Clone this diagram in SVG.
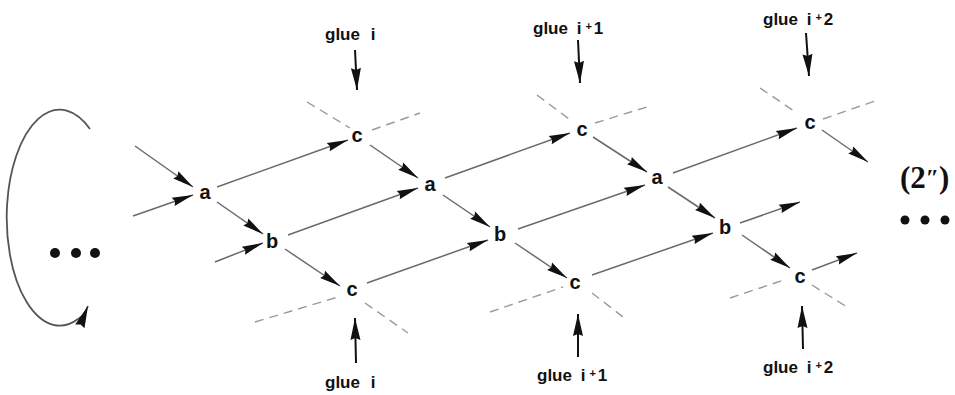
<svg xmlns="http://www.w3.org/2000/svg" width="955" height="395" viewBox="0 0 955 395">
<defs>
<marker id="ah" markerUnits="userSpaceOnUse" markerWidth="24" markerHeight="12" viewBox="-22 -6 24 12" refX="0" refY="0" orient="auto">
<path d="M0,0 L-21,-4.4 L-19,0 L-21,4.4 Z" fill="#111"/>
</marker>
<marker id="gh" markerUnits="userSpaceOnUse" markerWidth="26" markerHeight="14" viewBox="-24 -7 26 14" refX="0" refY="0" orient="auto">
<path d="M0,0 L-22,-5 L-20,0 L-22,5 Z" fill="#111"/>
</marker>
<style>
.e{stroke:#6a6a6a;stroke-width:1.5;fill:none;marker-end:url(#ah)}
.d{stroke:#9a9a9a;stroke-width:1.4;fill:none;stroke-dasharray:9 6}
.g{stroke:#111;stroke-width:2;fill:none;marker-end:url(#gh)}
.n{font-family:"Liberation Sans",Arial,sans-serif;font-weight:bold;font-size:20px;fill:#111;text-anchor:middle}
.t{font-family:"Liberation Sans",Arial,sans-serif;font-weight:bold;font-size:17px;fill:#111}
.p{font-size:11px}
</style>
</defs>
<rect width="955" height="395" fill="#fff"/>

<g id="connectors">
<line class="e" x1="135" y1="146" x2="193" y2="187"/>
<line class="e" x1="133" y1="216" x2="193" y2="195"/>
<line class="e" x1="217" y1="187" x2="348" y2="140"/>
<line class="e" x1="217" y1="202" x2="263" y2="234"/>
<line class="e" x1="215" y1="262" x2="263" y2="243"/>
<line class="e" x1="288" y1="235" x2="418" y2="188"/>
<line class="e" x1="285" y1="249" x2="340" y2="286"/>
<line class="e" x1="367" y1="283" x2="488" y2="240"/>
<line class="e" x1="370" y1="145" x2="418" y2="178"/>
<line class="e" x1="445" y1="178" x2="570" y2="133"/>
<line class="e" x1="443" y1="195" x2="490" y2="227"/>
<line class="e" x1="518" y1="229" x2="645" y2="185"/>
<line class="e" x1="515" y1="243" x2="567" y2="278"/>
<line class="e" x1="592" y1="275" x2="713" y2="233"/>
<line class="e" x1="593" y1="137" x2="647" y2="172"/>
<line class="e" x1="673" y1="173" x2="797" y2="128"/>
<line class="e" x1="668" y1="187" x2="715" y2="218"/>
<line class="e" x1="740" y1="223" x2="800" y2="202"/>
<line class="e" x1="742" y1="235" x2="790" y2="268"/>
<line class="e" x1="812" y1="270" x2="857" y2="253"/>
<line class="e" x1="822" y1="130" x2="868" y2="162"/>

<line class="d" x1="307" y1="102" x2="350" y2="128"/>
<line class="d" x1="372" y1="130" x2="420" y2="113"/>
<line class="d" x1="255" y1="322" x2="338" y2="297"/>
<line class="d" x1="365" y1="303" x2="408" y2="333"/>
<line class="d" x1="537" y1="95" x2="573" y2="122"/>
<line class="d" x1="595" y1="123" x2="647" y2="107"/>
<line class="d" x1="490" y1="312" x2="563" y2="287"/>
<line class="d" x1="592" y1="293" x2="627" y2="320"/>
<line class="d" x1="760" y1="88" x2="797" y2="113"/>
<line class="d" x1="823" y1="119" x2="878" y2="100"/>
<line class="d" x1="730" y1="298" x2="787" y2="279"/>
<line class="d" x1="812" y1="285" x2="847" y2="307"/>

<line class="g" x1="355" y1="50" x2="357" y2="90"/>
<line class="g" x1="578" y1="40" x2="580" y2="83"/>
<line class="g" x1="806" y1="33" x2="809" y2="76"/>
<line class="g" x1="356" y1="363" x2="355" y2="318"/>
<line class="g" x1="578" y1="357" x2="578" y2="314"/>
<line class="g" x1="803" y1="349" x2="802" y2="306"/>

<path d="M90,129 A53,108 0 1,0 78,319 Q84,316 88,306" stroke="#555" stroke-width="1.8" fill="none" marker-end="url(#gh)"/>
</g>

<g id="a1"><text class="n" x="205" y="199">a</text></g>
<g id="b1"><text class="n" x="272" y="248">b</text></g>
<g id="c_top1"><text class="n" x="357" y="142">c</text></g>
<g id="c_bot1"><text class="n" x="352" y="296">c</text></g>
<g id="a2"><text class="n" x="430" y="191">a</text></g>
<g id="b2"><text class="n" x="500" y="241">b</text></g>
<g id="c_top2"><text class="n" x="582" y="136">c</text></g>
<g id="c_bot2"><text class="n" x="575" y="289">c</text></g>
<g id="a3"><text class="n" x="657" y="184">a</text></g>
<g id="b3"><text class="n" x="725" y="234">b</text></g>
<g id="c_top3"><text class="n" x="810" y="129">c</text></g>
<g id="c_bot3"><text class="n" x="800" y="283">c</text></g>

<g id="glue_top_i"><text class="t" x="325" y="40" word-spacing="6">glue i</text></g>
<g id="glue_top_i1"><text class="t" x="533" y="34" word-spacing="4">glue i<tspan class="p" dx="4" dy="-4">+</tspan><tspan dx="2" dy="4">1</tspan></text></g>
<g id="glue_top_i2"><text class="t" x="763" y="25" word-spacing="4">glue i<tspan class="p" dx="4" dy="-4">+</tspan><tspan dx="2" dy="4">2</tspan></text></g>
<g id="glue_bot_i"><text class="t" x="325" y="388" word-spacing="6">glue i</text></g>
<g id="glue_bot_i1"><text class="t" x="537" y="381" word-spacing="4">glue i<tspan class="p" dx="4" dy="-4">+</tspan><tspan dx="2" dy="4">1</tspan></text></g>
<g id="glue_bot_i2"><text class="t" x="763" y="373" word-spacing="4">glue i<tspan class="p" dx="4" dy="-4">+</tspan><tspan dx="2" dy="4">2</tspan></text></g>

<g id="dots_left" fill="#111">
<circle cx="55" cy="253" r="5"/><circle cx="76" cy="253" r="5"/><circle cx="95" cy="253" r="5"/>
</g>
<g id="label">
<text x="900" y="188" font-family="'Liberation Serif','Times New Roman',serif" font-size="31" font-weight="bold" fill="#111">(2<tspan font-size="24" dy="-3">″</tspan><tspan dy="3">)</tspan></text>
</g>
<g id="dots_right" fill="#111">
<circle cx="905" cy="220" r="4.5"/><circle cx="925" cy="220" r="4.5"/><circle cx="945" cy="220" r="4.5"/>
</g>
</svg>
